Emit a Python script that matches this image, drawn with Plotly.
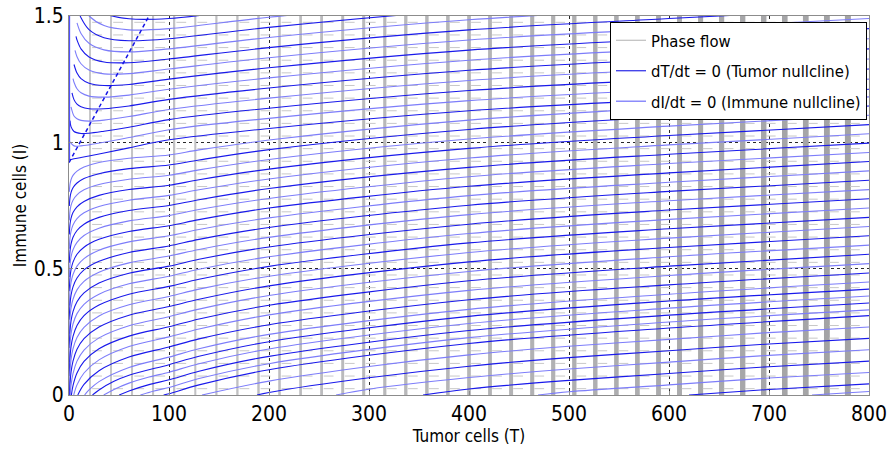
import plotly.graph_objects as go

# ---------------- data ----------------
x_ticks = [0, 100, 200, 300, 400, 500, 600, 700, 800]
y_ticks = [0, 0.5, 1, 1.5]
y_tick_text = ["0", "0.5", "1", "1.5"]

# quiver (phase flow) grid columns and arrow-head rows
quiver_T = [21.05, 42.1, 63.2, 84.2, 105.3, 126.3, 147.4, 168.4, 189.5, 210.5,
            231.6, 252.6, 273.7, 294.7, 315.8, 336.8, 357.9, 378.9, 400.0, 421.0,
            442.1, 463.2, 484.2, 505.3, 526.3, 547.4, 568.4, 589.5, 610.5, 631.6,
            652.6, 673.7, 694.7, 715.8, 736.8, 757.9, 778.9]
quiver_I = [0.025, 0.075, 0.125, 0.175, 0.225, 0.275, 0.325, 0.375, 0.425, 0.475,
            0.525, 0.575, 0.625, 0.675, 0.725, 0.775, 0.825, 0.875, 0.925, 0.975,
            1.025, 1.075, 1.125, 1.175, 1.225, 1.275, 1.325, 1.375, 1.425, 1.475]
I_top = 1.5

# streamlines above the separatrix (hook shaped)
upper_T = [
    [0.5, 5, 12, 20, 35, 60, 100, 200, 400, 600, 800],
    [1, 5, 12, 20, 35, 60, 100, 200, 400, 600, 800],
    [1, 2, 5, 12, 20, 35, 60, 100, 200, 400, 600, 800],
    [2, 5, 8, 12, 20, 35, 60, 100, 200, 400, 600, 800],
    [3, 5, 8, 12, 20, 35, 60, 100, 200, 400, 600, 800],
    [4, 5, 8, 12, 20, 35, 60, 100, 200, 400, 600, 800],
    [5, 8, 12, 20, 35, 60, 100, 200, 400, 600, 800],
    [6, 8, 12, 20, 35, 60, 100, 200, 400, 600, 800],
    [7, 8, 12, 20, 35, 60, 100, 200, 400, 600, 800],
    [8, 12, 20, 35, 60, 100, 200, 400, 600, 800],
    [10, 12, 20, 35, 60, 100, 200, 400, 600, 800],
    [13, 20, 35, 60, 100, 200, 400, 600, 800],
    [20, 35, 60, 100, 200, 400, 600, 800],
]
upper_I = [
    [0.930, 0.935, 0.940, 0.946, 0.958, 0.978, 1.010, 1.055, 1.125, 1.170, 1.210],
    [1.002, 0.986, 0.986, 0.990, 1.000, 1.019, 1.050, 1.095, 1.165, 1.210, 1.250],
    [1.086, 1.062, 1.043, 1.035, 1.036, 1.044, 1.060, 1.090, 1.135, 1.205, 1.250, 1.290],
    [1.140, 1.104, 1.093, 1.087, 1.084, 1.088, 1.102, 1.130, 1.175, 1.245, 1.290, 1.330],
    [1.196, 1.169, 1.151, 1.141, 1.133, 1.133, 1.144, 1.170, 1.215, 1.285, 1.330, 1.370],
    [1.252, 1.238, 1.212, 1.196, 1.183, 1.179, 1.187, 1.210, 1.255, 1.325, 1.370, 1.410],
    [1.308, 1.274, 1.252, 1.234, 1.225, 1.229, 1.250, 1.295, 1.365, 1.410, 1.450],
    [1.364, 1.339, 1.311, 1.286, 1.271, 1.272, 1.290, 1.335, 1.405, 1.450, 1.490],
    [1.419, 1.405, 1.370, 1.338, 1.318, 1.315, 1.330, 1.375, 1.445, 1.490, 1.530],
    [1.473, 1.431, 1.392, 1.366, 1.358, 1.370, 1.415, 1.485, 1.530, 1.570],
    [1.513, 1.493, 1.446, 1.414, 1.402, 1.410, 1.455, 1.525, 1.570, 1.610],
    [1.546, 1.501, 1.462, 1.445, 1.450, 1.495, 1.565, 1.610, 1.650],
    [1.557, 1.511, 1.489, 1.490, 1.535, 1.605, 1.650, 1.690],
]

# streamlines leaving the left edge (T ~ 0) below the separatrix
edge_T = [0.3, 1, 2, 4, 8, 15, 30, 60, 100, 130, 200, 400, 600, 800]
edge_I = [
    [0.804, 0.834, 0.852, 0.869, 0.886, 0.902, 0.920, 0.937, 0.950, 0.970, 1.009, 1.088, 1.138, 1.180],
    [0.748, 0.781, 0.801, 0.820, 0.839, 0.857, 0.876, 0.896, 0.910, 0.930, 0.971, 1.051, 1.101, 1.144],
    [0.691, 0.728, 0.750, 0.771, 0.792, 0.812, 0.833, 0.854, 0.870, 0.891, 0.932, 1.013, 1.064, 1.107],
    [0.635, 0.676, 0.699, 0.722, 0.745, 0.766, 0.790, 0.813, 0.830, 0.852, 0.894, 0.976, 1.027, 1.070],
    [0.579, 0.623, 0.648, 0.673, 0.698, 0.721, 0.746, 0.771, 0.790, 0.812, 0.855, 0.938, 0.990, 1.034],
    [0.523, 0.570, 0.597, 0.624, 0.651, 0.676, 0.703, 0.730, 0.750, 0.773, 0.817, 0.901, 0.953, 0.997],
    [0.467, 0.517, 0.546, 0.575, 0.604, 0.631, 0.660, 0.689, 0.710, 0.734, 0.778, 0.864, 0.916, 0.960],
    [0.411, 0.464, 0.495, 0.526, 0.557, 0.585, 0.616, 0.647, 0.670, 0.694, 0.740, 0.826, 0.879, 0.924],
    [0.354, 0.412, 0.445, 0.477, 0.510, 0.540, 0.573, 0.606, 0.630, 0.655, 0.701, 0.789, 0.842, 0.887],
    [0.298, 0.359, 0.394, 0.428, 0.463, 0.495, 0.529, 0.564, 0.590, 0.616, 0.663, 0.751, 0.806, 0.850],
    [0.242, 0.306, 0.343, 0.379, 0.416, 0.450, 0.486, 0.523, 0.550, 0.576, 0.624, 0.714, 0.769, 0.813],
    [0.186, 0.253, 0.292, 0.330, 0.369, 0.404, 0.443, 0.482, 0.510, 0.537, 0.586, 0.676, 0.732, 0.777],
    [0.130, 0.200, 0.241, 0.281, 0.322, 0.359, 0.399, 0.440, 0.470, 0.498, 0.547, 0.639, 0.695, 0.740],
    [0.074, 0.148, 0.190, 0.232, 0.275, 0.314, 0.356, 0.399, 0.430, 0.458, 0.509, 0.602, 0.658, 0.703],
    [0.018, 0.095, 0.139, 0.183, 0.228, 0.268, 0.313, 0.357, 0.390, 0.419, 0.470, 0.564, 0.621, 0.667],
]

# streamlines rising from the bottom edge at the lower left
low_T = [
    [0.54, 1, 2, 4, 8, 15, 30, 60, 100, 130, 200, 400, 600, 800],
    [1.17, 2, 4, 8, 15, 30, 60, 100, 130, 200, 400, 600, 800],
    [2.4, 4, 8, 15, 30, 60, 100, 130, 200, 400, 600, 800],
    [4.7, 8, 15, 30, 60, 100, 130, 200, 400, 600, 800],
    [8.8, 15, 30, 60, 100, 130, 200, 400, 600, 800],
    [15.6, 20, 30, 60, 100, 130, 200, 400, 600, 800],
    [23.5, 30, 45, 60, 100, 130, 200, 400, 600, 800],
    [34.7, 45, 60, 80, 100, 130, 200, 400, 600, 800],
    [50.2, 60, 80, 100, 130, 200, 400, 600, 800],
    [71.4, 85, 100, 130, 200, 400, 600, 800],
    [94.6, 100, 130, 200, 400, 600, 800],
]
low_I = [
    [0.0, 0.042, 0.089, 0.134, 0.181, 0.223, 0.269, 0.316, 0.350, 0.379, 0.432, 0.527, 0.584, 0.630],
    [0.0, 0.038, 0.085, 0.134, 0.178, 0.226, 0.274, 0.310, 0.340, 0.394, 0.489, 0.547, 0.593],
    [0.0, 0.037, 0.087, 0.133, 0.183, 0.233, 0.270, 0.301, 0.355, 0.452, 0.510, 0.557],
    [0.0, 0.040, 0.087, 0.139, 0.192, 0.230, 0.261, 0.317, 0.414, 0.473, 0.520],
    [0.0, 0.042, 0.096, 0.150, 0.190, 0.222, 0.278, 0.377, 0.436, 0.483],
    [0.0, 0.020, 0.053, 0.109, 0.150, 0.183, 0.240, 0.339, 0.399, 0.447],
    [0.0, 0.020, 0.054, 0.078, 0.120, 0.153, 0.211, 0.311, 0.372, 0.419],
    [0.0, 0.022, 0.047, 0.071, 0.090, 0.124, 0.182, 0.283, 0.344, 0.392],
    [0.0, 0.016, 0.041, 0.060, 0.094, 0.153, 0.255, 0.316, 0.364],
    [0.0, 0.016, 0.030, 0.065, 0.124, 0.227, 0.289, 0.337],
    [0.0, 0.005, 0.040, 0.100, 0.204, 0.265, 0.314],
]

# streamlines entering from the bottom edge further right
bottom_T = [
    [133, 200, 300, 400, 500, 600, 700, 800],
    [188, 200, 300, 400, 500, 600, 700, 800],
    [267, 300, 400, 500, 600, 700, 800],
    [354, 400, 500, 600, 700, 800],
    [469, 500, 600, 700, 800],
    [620, 700, 800],
    [743, 800],
]
bottom_I = [
    [0.0, 0.055, 0.113, 0.159, 0.193, 0.220, 0.247, 0.269],
    [0.0, 0.010, 0.068, 0.114, 0.148, 0.175, 0.202, 0.224],
    [0.0, 0.023, 0.069, 0.103, 0.130, 0.157, 0.179],
    [0.0, 0.024, 0.058, 0.085, 0.112, 0.134],
    [0.0, 0.013, 0.040, 0.067, 0.089],
    [0.0, 0.022, 0.044],
    [0.0, 0.014],
]

# invariant line along T = 0 and the dashed nullcline
axis_flow_T = [0.4, 0.4]
axis_flow_I = [0.93, 1.5]
nullcline_T = [0, 80]
nullcline_I = [0.92, 1.5]

legend_names = ["Phase flow", "dT/dt = 0 (Tumor nullcline)", "dI/dt = 0 (Immune nullcline)"]

# ---------------- styles ----------------
FONT = "DejaVu Sans Condensed, Liberation Sans Narrow, Liberation Sans, sans-serif"
DARK = "rgb(25,25,235)"
LIGHT = "rgb(125,125,250)"

fig = go.Figure()

# phase flow columns (gray bars, thicker to the right)
n = len(quiver_T)
widths = [1.3 + t * 0.006 for t in quiver_T]
cols = []
for t in quiver_T:
    g = int(200 - 38 * t / 800)
    cols.append(f"rgb({g},{g},{g+2})")
fig.add_trace(go.Bar(x=quiver_T, y=[I_top] * n, width=widths, base=0,
                     marker=dict(color=cols, line=dict(width=0)),
                     showlegend=False, hoverinfo="skip"))

# arrow heads (light dashes)
hx, hy = [], []
for t in quiver_T:
    for i in quiver_I:
        hx.append(t + 7)
        hy.append(i)
fig.add_trace(go.Scatter(x=hx, y=hy, mode="markers",
                         marker=dict(symbol="line-ew", size=7,
                                     line=dict(width=1, color="rgb(200,200,200)")),
                         showlegend=False, hoverinfo="skip"))

# streamlines
lines = list(zip(upper_T, upper_I))
lines += [(edge_T, ys) for ys in edge_I]
lines += list(zip(low_T, low_I))
lines += list(zip(bottom_T, bottom_I))
for k, (ts, ys) in enumerate(lines):
    fig.add_trace(go.Scatter(x=ts, y=ys, mode="lines",
                             line=dict(color=DARK if k % 2 == 0 else LIGHT, width=1.1,
                                       shape="spline", smoothing=0.9),
                             showlegend=False, hoverinfo="skip"))

fig.add_trace(go.Scatter(x=axis_flow_T, y=axis_flow_I, mode="lines",
                         line=dict(color="rgb(80,80,255)", width=1.5),
                         showlegend=False, hoverinfo="skip"))
fig.add_trace(go.Scatter(x=nullcline_T, y=nullcline_I, mode="lines",
                         line=dict(color="rgb(20,20,230)", width=1.5, dash="4px,3px"),
                         showlegend=False, hoverinfo="skip"))

# legend entries
leg_colors = ["rgb(190,190,190)", "rgb(40,40,230)", "rgb(110,110,250)"]
for j, (name, c) in enumerate(zip(legend_names, leg_colors)):
    fig.add_trace(go.Scatter(x=[None], y=[None], mode="lines", name=name,
                             legendgroup=f"g{j}",
                             line=dict(color=c, width=1.2)))

fig.update_layout(
    width=888, height=454,
    margin=dict(l=69, r=19, t=16, b=59, autoexpand=False),
    paper_bgcolor="white", plot_bgcolor="white",
    font=dict(family=FONT, color="black", size=17),
    barmode="overlay",
    legend=dict(x=0.9975, xanchor="right", y=0.984, yanchor="top",
                bgcolor="white", bordercolor="black", borderwidth=1,
                font=dict(family=FONT, size=16.5, color="black"),
                tracegroupgap=6, itemwidth=30),
    xaxis=dict(range=[0, 800], tickvals=x_ticks, ticktext=[str(v) for v in x_ticks],
               automargin=False, ticklabeloverflow="allow",
               showline=True, mirror=True, linecolor="rgb(140,140,140)", linewidth=1,
               ticks="inside", ticklen=4, tickcolor="rgb(140,140,140)",
               showgrid=True, gridcolor="rgb(40,40,40)", griddash="dot", gridwidth=1,
               zeroline=False, tickfont=dict(family=FONT, size=21),
               title=dict(text="Tumor cells (T)", font=dict(family=FONT, size=17), standoff=2)),
    yaxis=dict(range=[0, 1.5], tickvals=y_ticks, ticktext=y_tick_text,
               automargin=False, ticklabeloverflow="allow",
               showline=True, mirror=True, linecolor="rgb(140,140,140)", linewidth=1,
               ticks="inside", ticklen=4, tickcolor="rgb(140,140,140)",
               showgrid=True, gridcolor="rgb(40,40,40)", griddash="dot", gridwidth=1,
               zeroline=False, tickfont=dict(family=FONT, size=21),
               title=dict(text="Immune cells (I)", font=dict(family=FONT, size=17), standoff=2)),
)

# remove the default 8px page margin so the figure fills the window exactly
fig.write_html("out.html", config={"displayModeBar": False},
               post_script="document.body.style.margin='0';document.body.style.overflow='hidden';")
